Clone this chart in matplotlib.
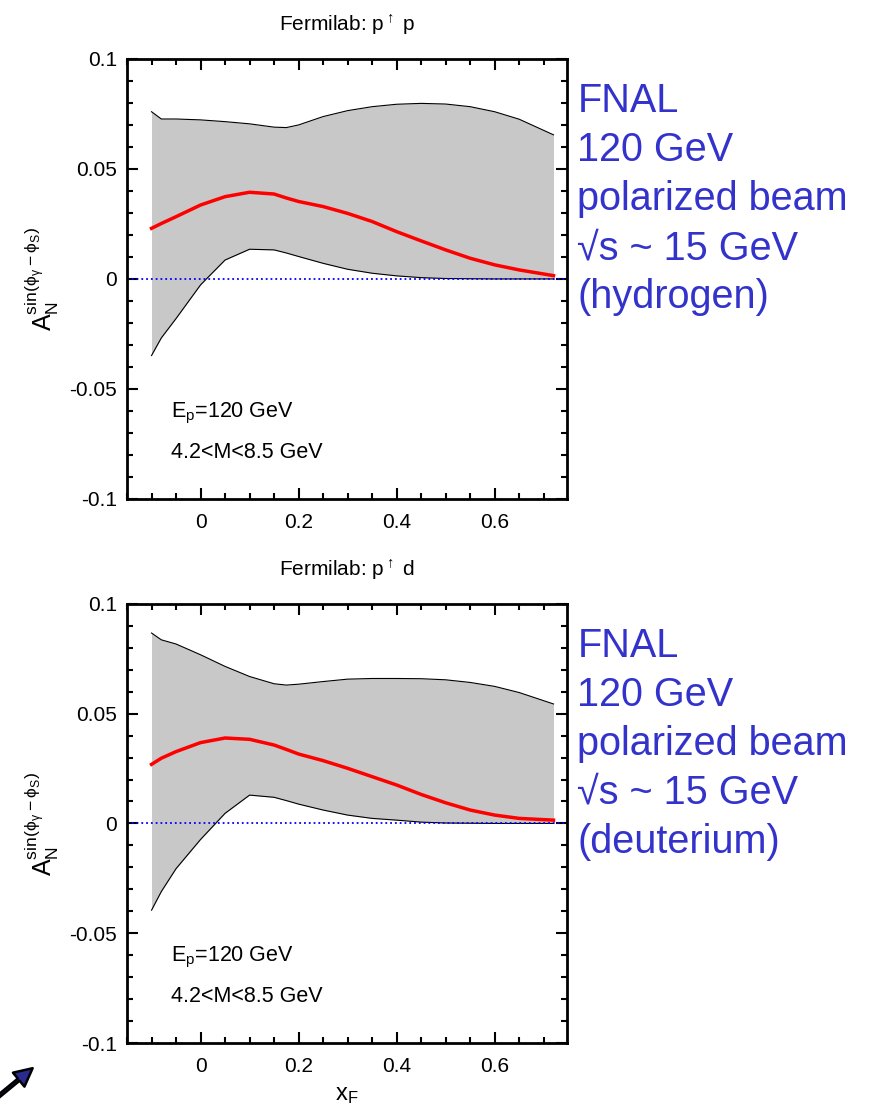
import numpy as np
import matplotlib.pyplot as plt
from matplotlib.ticker import MultipleLocator
from matplotlib.patches import FancyArrowPatch

plt.rcParams['font.family'] = ['Liberation Sans', 'DejaVu Sans']
plt.rcParams['mathtext.default'] = 'regular'

# x_F sampling points
xf = [-0.1, -0.08, -0.05, 0.0, 0.05, 0.1, 0.15, 0.175, 0.2, 0.25, 0.3, 0.35,
      0.4, 0.45, 0.5, 0.55, 0.6, 0.65, 0.72]

# hydrogen target (top panel)
h_upper = [0.076, 0.0727, 0.0727, 0.0723, 0.0715, 0.0705, 0.069, 0.0688, 0.070,
           0.0738, 0.0765, 0.0783, 0.0794, 0.0798, 0.0795, 0.0783, 0.076, 0.0726, 0.0655]
h_mid = [0.023, 0.0252, 0.0283, 0.0336, 0.0374, 0.0394, 0.0386, 0.0368, 0.0352,
         0.0329, 0.0298, 0.0261, 0.0215, 0.0173, 0.0132, 0.0094, 0.0064, 0.0041, 0.0015]
h_lower = [-0.0348, -0.0268, -0.0180, -0.0027, 0.0086, 0.0135, 0.0132, 0.0118, 0.0102,
           0.0071, 0.0044, 0.0026, 0.0014, 0.0006, 0.0002, 0.0001, 0.0, 0.0, 0.0]

# deuterium target (bottom panel)
d_upper = [0.0867, 0.0836, 0.0817, 0.0768, 0.0715, 0.0669, 0.0636, 0.063, 0.0634,
           0.0646, 0.0657, 0.066, 0.066, 0.0659, 0.0654, 0.0642, 0.0624, 0.0596, 0.0544]
d_mid = [0.0269, 0.0297, 0.0327, 0.0368, 0.0389, 0.0383, 0.0357, 0.0337, 0.0316,
         0.0286, 0.0251, 0.0213, 0.0175, 0.0132, 0.0094, 0.0061, 0.0038, 0.0023, 0.0015]
d_lower = [-0.0395, -0.0310, -0.0206, -0.0073, 0.0046, 0.0129, 0.0119, 0.0104, 0.0088,
           0.0061, 0.0038, 0.0023, 0.0015, 0.0006, 0.0002, 0.0001, 0.0, 0.0, 0.0]

y_ticks = [-0.1, -0.05, 0, 0.05, 0.1]
y_labels = ['-0.1', '-0.05', '0', '0.05', '0.1']
x_ticks = [0, 0.2, 0.4, 0.6]
x_labels = ['0', '0.2', '0.4', '0.6']

panels = [
    ('Fermilab: p$^{\\uparrow}$ p', h_upper, h_mid, h_lower, 'hydrogen'),
    ('Fermilab: p$^{\\uparrow}$ d', d_upper, d_mid, d_lower, 'deuterium'),
]
positions = [[0.146, 0.5513, 0.506, 0.3957], [0.146, 0.062, 0.506, 0.395]]

fig = plt.figure(figsize=(8.7, 11.12), dpi=100)

for (title, up, mid, lo, target), pos in zip(panels, positions):
    ax = fig.add_axes(pos)
    ax.fill_between(xf, lo, up, color='#c8c8c8', lw=0)
    ax.plot(xf, up, color='black', lw=0.8)
    ax.plot(xf, lo, color='black', lw=0.8)
    ax.axhline(0, color='blue', ls=':', lw=1.3)
    ax.plot(xf, mid, color='red', lw=2.5)

    ax.set_xlim(-0.15, 0.748)
    ax.set_ylim(-0.1, 0.1)
    ax.set_xticks(x_ticks)
    ax.set_xticklabels(x_labels)
    ax.set_yticks(y_ticks)
    ax.set_yticklabels(y_labels)
    ax.xaxis.set_minor_locator(MultipleLocator(0.05))
    ax.yaxis.set_minor_locator(MultipleLocator(0.01))
    ax.tick_params(which='both', direction='in', top=True, right=True,
                   labelsize=15, width=1.5)
    ax.tick_params(which='major', length=8, pad=7)
    ax.tick_params(which='minor', length=4)
    ax.tick_params(axis='x', which='major', pad=10)
    for s in ax.spines.values():
        s.set_linewidth(2)

    ax.set_title(title, fontsize=15, pad=20)
    ax.set_ylabel('$A_N^{sin(\\phi_\\gamma-\\phi_S)}$', fontsize=18, labelpad=6)

    ax.text(0.1, 0.186, '$E_p$=120 GeV', transform=ax.transAxes,
            fontsize=15.5, va='baseline')
    ax.text(0.1, 0.093, '4.2<M<8.5 GeV', transform=ax.transAxes,
            fontsize=15.5, va='baseline')

    ax.text(1.023, 0.948, 'FNAL\n120 GeV\npolarized beam\n\u221as ~ 15 GeV\n(' + target + ')',
            transform=ax.transAxes, fontsize=28.5, color='#3333cc', va='top',
            linespacing=1.37)

fig.axes[1].set_xlabel('$x_F$', fontsize=17, labelpad=6)

# arrow in the lower left corner
fig.patches.append(FancyArrowPatch(
    (-0.005, 0.012), (0.04, 0.041), transform=fig.transFigure,
    arrowstyle='simple,head_width=1.3,head_length=1.3', mutation_scale=10,
    facecolor='#2a2a90', edgecolor='black', lw=1.8))

fig.savefig('out.png', dpi=100)
